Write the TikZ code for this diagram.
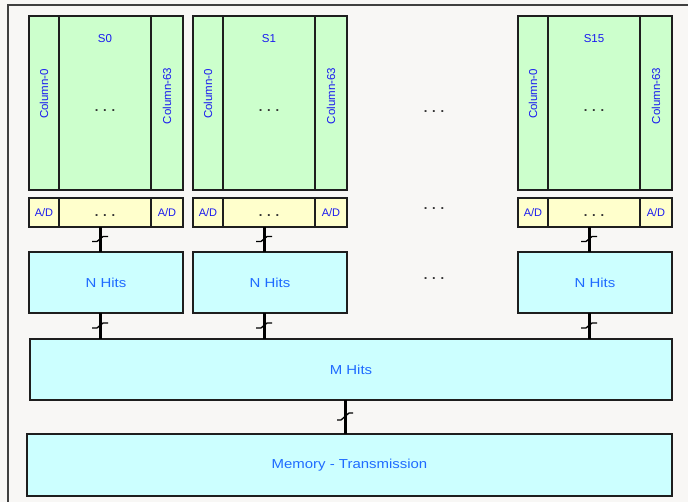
\documentclass[tikz,border=0pt]{standalone}
\usepackage{fontspec}
\setmainfont{Liberation Sans}
\newfontfamily\widesans[FakeStretch=1.15]{Liberation Sans}
\usetikzlibrary{calc}
\definecolor{bgc}{HTML}{F8F7F5}
\definecolor{greenf}{HTML}{CCFFCC}
\definecolor{yellowf}{HTML}{FFFFCC}
\definecolor{cyanf}{HTML}{CCFFFF}
\definecolor{txtA}{HTML}{1A1AF0}
\definecolor{txtB}{HTML}{1F6BFF}
\definecolor{edge}{HTML}{1E1E1E}
\begin{document}
\begin{tikzpicture}[x=1pt,y=-1pt,
  boxf/.style={draw=edge,line width=1.6pt,inner sep=0pt,outer sep=0pt,anchor=north west},
  gbox/.style={boxf,fill=greenf},
  ybox/.style={boxf,fill=yellowf},
  cbox/.style={boxf,fill=cyanf},
  coltxt/.style={font=\fontsize{11.5}{13}\selectfont,text=txtA},
  adtxt/.style={font=\fontsize{11}{12}\selectfont,text=txtA,inner sep=0pt},
  hittxt/.style={font=\widesans\fontsize{13}{15}\selectfont,text=txtB},
  dotstxt/.style={font=\fontsize{13}{13}\selectfont\bfseries,text=black!80},
  bus/.style={line width=3pt,draw=black},
  tick/.style={line width=1.3pt,draw=black}
]
\useasboundingbox (0,0) rectangle (688,502);
\fill[bgc] (0,0) rectangle (688,502);
\draw[line width=1.6pt,draw=black!75] (8,5) rectangle (720,530);

\foreach \L/\n/\lab in {29/0/S0,193/1/S1,518/2/S15}{
  % sector column block
  \node[gbox,minimum width=30pt,minimum height=174pt] (cl\n) at (\L,16) {};
  \node[gbox,minimum width=92pt,minimum height=174pt] (cm\n) at (\L+30,16) {};
  \node[gbox,minimum width=32pt,minimum height=174pt] (cr\n) at (\L+122,16) {};
  \node[coltxt,rotate=90] (tl\n) at (cl\n.center |- 0,94) {Column-0};
  \node[coltxt,rotate=90] (tr\n) at (cr\n.center |- 0,96) {Column-63};
  \node[coltxt] (ts\n) at (cm\n.center |- 0,39) {\lab};
  \node[dotstxt] (dm\n) at (cm\n.center |- 0,111) {. . .};
  % A/D row
  \node[ybox,minimum width=30pt,minimum height=29pt] (al\n) at (\L,198) {};
  \node[ybox,minimum width=92pt,minimum height=29pt] (am\n) at (\L+30,198) {};
  \node[ybox,minimum width=32pt,minimum height=29pt] (ar\n) at (\L+122,198) {};
  \node[adtxt] at (al\n.center) {A/D};
  \node[adtxt] at (ar\n.center) {A/D};
  \node[dotstxt] at ($(am\n.center)+(0,3)$) {. . .};
  % N Hits
  \node[cbox,minimum width=154pt,minimum height=61pt] (nh\n) at (\L,252) {};
  \node[hittxt] at (nh\n.center) {N Hits};
}

\node[cbox,minimum width=642pt,minimum height=61pt] (mh) at (30,339) {};
\node[hittxt] at (mh.center) {M Hits};
\node[cbox,minimum width=645pt,minimum height=62pt] (mem) at (27,434) {};
\node[hittxt] at (mem.center) {Memory - Transmission};

% dots between sectors
\node[dotstxt] (g1) at (434,112) {. . .};
\node[dotstxt] (g2) at (434,209) {. . .};
\node[dotstxt] (g3) at (434,279) {. . .};

% buses
\foreach \n in {0,1,2}{
  \coordinate (a\n) at ($(al\n.south west)+(71,0)$);
  \draw[bus] (a\n) -- (a\n |- nh\n.north);
  \coordinate (m\n) at ($(a\n)!0.5!(a\n |- nh\n.north)$);
  \draw[tick] ($(m\n)+(-8,2)$) -- ++(5,0) -- ++(6,-5) -- ++(5,0);
  \coordinate (b\n) at ($(nh\n.south west)+(71,0)$);
  \draw[bus] (b\n) -- (b\n |- mh.north);
  \coordinate (k\n) at ($(b\n)!0.5!(b\n |- mh.north)$);
  \draw[tick] ($(k\n)+(-8,2)$) -- ++(5,0) -- ++(6,-5) -- ++(5,0);
}
\coordinate (c0) at (345,400);
\draw[bus] (c0 |- mh.south) -- (c0 |- mem.north);
\coordinate (k3) at ($(c0 |- mh.south)!0.5!(c0 |- mem.north)$);
\draw[tick] ($(k3)+(-8,3)$) -- ++(4,0) -- ++(8,-7) -- ++(4,0);
\end{tikzpicture}
\end{document}
